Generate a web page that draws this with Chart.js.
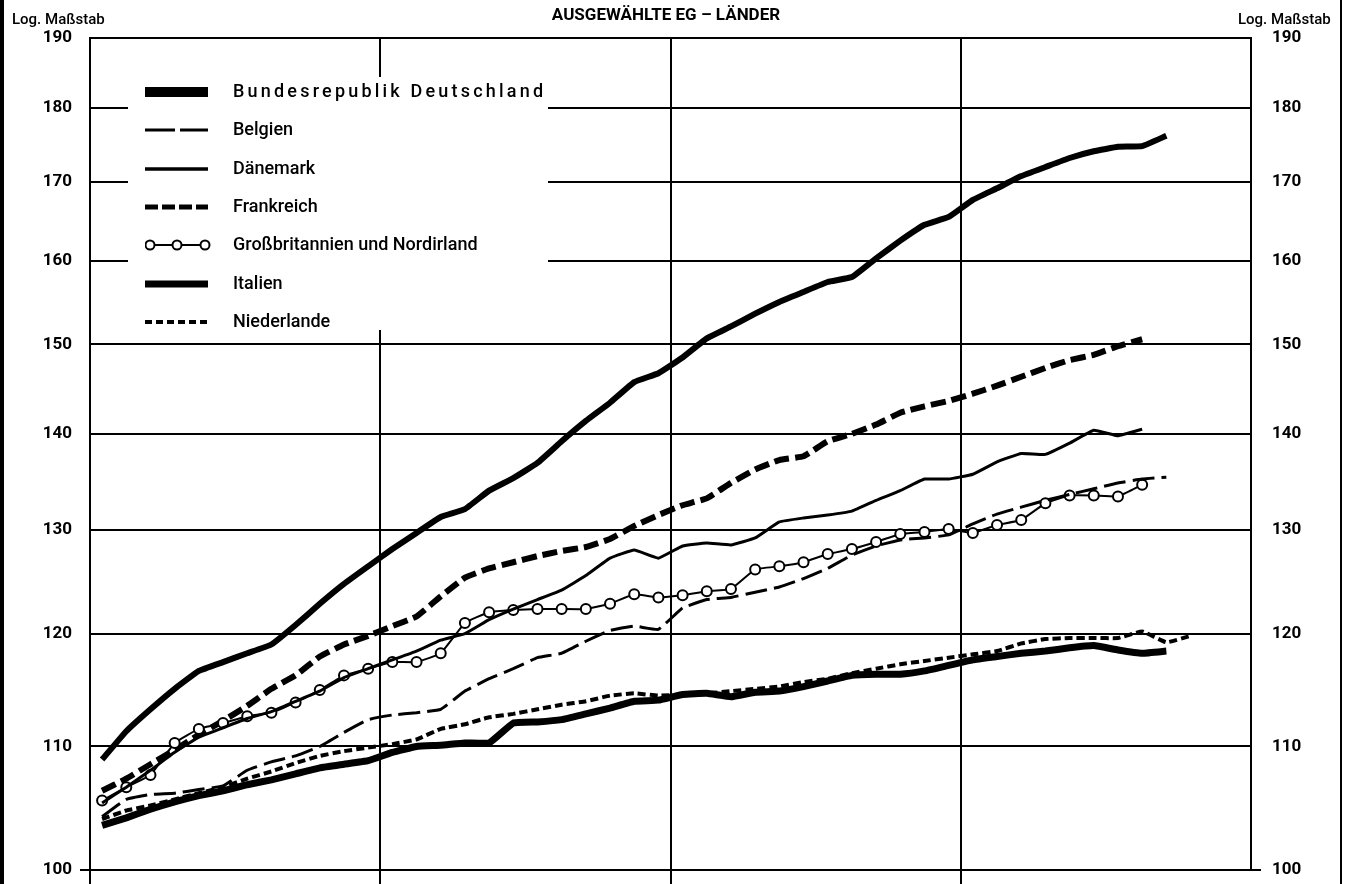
<!DOCTYPE html>
<html lang="de">
<head>
<meta charset="utf-8">
<title>Ausgewählte EG-Länder</title>
<script src="https://cdn.jsdelivr.net/npm/chart.js@4/dist/chart.umd.min.js"></script>
<style>
  html, body { margin: 0; padding: 0; background: #fff; }
  #wrap { position: relative; width: 1348px; height: 884px; overflow: hidden; background: #fff; font-family: Roboto, "Liberation Sans", sans-serif; color: #000; }
  #cv { position: absolute; left: 0; top: 0; }
  .edge { position: absolute; top: 0; height: 884px; background: #000; }
  .title { position: absolute; left: -8px; width: 1348px; top: 4px; text-align: center; font-weight: bold; font-size: 17px; }
  .logm { position: absolute; top: 10px; font-size: 15px; font-weight: 500; }
  #legend { position: absolute; left: 128px; top: 77px; width: 420px; height: 253px; }
  .lrow { position: absolute; left: 0; height: 20px; width: 420px; }
  .lrow svg { position: absolute; left: 17px; top: 0; }
  .lrow span { position: absolute; left: 105px; top: -2px; font-size: 18px; font-weight: 500; white-space: nowrap; }
</style>
</head>
<body>
<div id="wrap">
  <canvas id="cv" width="1348" height="884"></canvas>
  <div class="edge" style="left:0;width:4px;"></div>
  <div class="edge" style="left:1340px;width:2px;"></div>
  <div class="title">AUSGEWÄHLTE EG – LÄNDER</div>
  <div class="logm" style="left:12px;">Log. Maßstab</div>
  <div class="logm" style="left:1238px;">Log. Maßstab</div>
  <div id="legend"></div>
</div>
<script>
// ---- categories (monthly, four years) ----
const years = ['1. Jahr', '2. Jahr', '3. Jahr', '4. Jahr'];
const monthNames = ['Jan', 'Feb', 'Mär', 'Apr', 'Mai', 'Jun', 'Jul', 'Aug', 'Sep', 'Okt', 'Nov', 'Dez'];
const yTicks = [100, 110, 120, 130, 140, 150, 160, 170, 180, 190];

// ---- series values (index, log scale) ----
const deutschland = [103.5,104.1,104.8,105.4,105.9,106.3,106.8,107.2,107.7,108.2,108.5,108.8,109.5,110.0,110.1,110.3,110.3,112.0,112.1,112.3,112.8,113.3,113.9,114.0,114.5,114.6,114.3,114.7,114.8,115.2,115.7,116.2,116.3,116.3,116.6,117.1,117.6,117.9,118.2,118.4,118.7,118.9,118.5,118.2,118.4];
const belgien = [104.2,105.6,106.0,106.1,106.4,106.7,108.0,108.7,109.2,110.0,111.2,112.3,112.7,112.9,113.2,114.8,115.9,116.8,117.8,118.2,119.3,120.3,120.7,120.4,122.4,123.2,123.4,123.9,124.4,125.2,126.2,127.5,128.4,129.0,129.2,129.5,130.6,131.6,132.3,133.0,133.6,134.2,134.8,135.2,135.4];
const daenemark = [105.3,106.6,108.0,109.5,110.8,111.6,112.4,113.0,113.9,114.8,116.0,116.8,117.6,118.4,119.4,120.0,121.3,122.3,123.2,124.1,125.5,127.2,128.0,127.2,128.4,128.7,128.5,129.2,130.8,131.2,131.5,131.9,133.0,134.0,135.2,135.2,135.7,137.0,137.9,137.8,139.0,140.4,139.8,140.5];
const frankreich = [106.3,107.3,108.5,109.7,111.0,112.2,113.5,115.0,116.2,117.9,119.0,119.8,120.7,121.6,123.5,125.3,126.2,126.8,127.4,127.9,128.3,129.1,130.4,131.5,132.5,133.2,134.8,136.2,137.2,137.6,139.2,140.0,141.0,142.3,143.0,143.6,144.4,145.3,146.3,147.3,148.2,148.8,149.8,150.6];
const grossbritannien = [105.5,106.6,107.6,110.3,111.5,112.0,112.6,112.9,113.8,114.9,116.2,116.8,117.4,117.4,118.2,121.0,122.0,122.2,122.3,122.3,122.3,122.8,123.7,123.4,123.6,124.0,124.2,126.1,126.4,126.8,127.6,128.1,128.8,129.6,129.8,130.1,129.7,130.5,131.0,132.7,133.5,133.5,133.4,134.6];
const italien = [108.9,111.3,113.2,115.0,116.6,117.4,118.2,119.0,120.8,122.8,124.7,126.4,128.1,129.7,131.3,132.1,134.0,135.3,136.9,139.2,141.4,143.4,145.7,146.7,148.5,150.7,152.1,153.6,155.0,156.2,157.4,158.0,160.3,162.5,164.5,165.5,167.7,169.2,170.8,172.0,173.2,174.1,174.7,174.8,176.2];
const niederlande = [104.0,104.7,105.1,105.6,106.1,106.6,107.3,107.9,108.6,109.2,109.6,109.9,110.2,110.6,111.5,111.9,112.5,112.8,113.2,113.6,113.9,114.4,114.6,114.4,114.5,114.6,114.8,115.0,115.2,115.6,115.9,116.4,116.8,117.2,117.5,117.8,118.1,118.4,119.1,119.5,119.6,119.6,119.6,120.2,119.2,119.8];

const categories = [];
years.forEach(y => monthNames.forEach(m => categories.push(m + ' ' + y)));

// ---- legend entries (style descriptions for the HTML legend) ----
const legendItems = [
  { label: 'Bundesrepublik Deutschland', svg: '<line x1="0" y1="10" x2="63" y2="10" stroke="#000" stroke-width="10"/>', spacing: '3.2px' },
  { label: 'Belgien', svg: '<line x1="0" y1="10" x2="63" y2="10" stroke="#000" stroke-width="3" stroke-dasharray="30 5"/>' },
  { label: 'Dänemark', svg: '<line x1="0" y1="10" x2="63" y2="10" stroke="#000" stroke-width="3.5"/>' },
  { label: 'Frankreich', svg: '<line x1="0" y1="10" x2="63" y2="10" stroke="#000" stroke-width="5" stroke-dasharray="13 4"/>' },
  { label: 'Großbritannien und Nordirland', svg: '<line x1="3" y1="10" x2="60" y2="10" stroke="#000" stroke-width="2"/><circle cx="5" cy="10" r="4.5" fill="#fff" stroke="#000" stroke-width="2"/><circle cx="32" cy="10" r="4.5" fill="#fff" stroke="#000" stroke-width="2"/><circle cx="60" cy="10" r="4.5" fill="#fff" stroke="#000" stroke-width="2"/>' },
  { label: 'Italien', svg: '<line x1="0" y1="10" x2="63" y2="10" stroke="#000" stroke-width="7"/>' },
  { label: 'Niederlande', svg: '<line x1="0" y1="10" x2="63" y2="10" stroke="#000" stroke-width="4" stroke-dasharray="7 4"/>' }
];
const legendEl = document.getElementById('legend');
legendItems.forEach((it, i) => {
  const row = document.createElement('div');
  row.className = 'lrow';
  row.style.top = (5 + i * 38.3) + 'px';
  row.innerHTML = '<svg width="66" height="20" viewBox="0 0 66 20">' + it.svg + '</svg><span' +
    (it.spacing ? ' style="letter-spacing:' + it.spacing + '"' : '') + '>' + it.label + '</span>';
  legendEl.appendChild(row);
});

// white area behind the legend (interrupts the grid there)
const legendMask = {
  id: 'legendMask',
  beforeDatasetsDraw(chart) {
    const a = chart.chartArea, c = chart.ctx;
    c.save();
    c.fillStyle = '#fff';
    c.fillRect(a.left + 38, a.top + 39, 420, 253);
    c.restore();
  }
};

const base = { borderColor: '#000', backgroundColor: '#000', pointRadius: 0, fill: false, tension: 0.1, borderCapStyle: 'butt', borderJoinStyle: 'round' };

function fitY(width) {
  return s => { s.width = width; s.paddingTop = 0; s.paddingBottom = 0; };
}

new Chart(document.getElementById('cv'), {
  type: 'line',
  data: {
    labels: categories,
    datasets: [
      Object.assign({}, base, { label: 'Bundesrepublik Deutschland', data: deutschland, borderWidth: 7 }),
      Object.assign({}, base, { label: 'Niederlande', data: niederlande, borderWidth: 4, borderDash: [8, 4] }),
      Object.assign({}, base, { label: 'Belgien', data: belgien, borderWidth: 3, borderDash: [22, 7] }),
      Object.assign({}, base, { label: 'Dänemark', data: daenemark, borderWidth: 3 }),
      Object.assign({}, base, { label: 'Großbritannien und Nordirland', data: grossbritannien, borderWidth: 2,
        pointRadius: 5, pointBackgroundColor: '#fff', pointBorderColor: '#000', pointBorderWidth: 2 }),
      Object.assign({}, base, { label: 'Frankreich', data: frankreich, borderWidth: 6, borderDash: [15, 6] }),
      Object.assign({}, base, { label: 'Italien', data: italien, borderWidth: 6 })
    ]
  },
  options: {
    responsive: false,
    animation: false,
    layout: { padding: { top: 38, left: 0, right: 0, bottom: 0 } },
    plugins: { legend: { display: false }, tooltip: { enabled: false }, title: { display: false } },
    elements: { line: { borderColor: '#000' } },
    scales: {
      x: {
        type: 'category',
        offset: true,
        ticks: { display: false, autoSkip: false },
        grid: {
          offset: true,
          lineWidth: 2,
          color: ctx => (ctx.index % 12 === 0 ? '#000' : 'rgba(0,0,0,0)'),
          drawTicks: true,
          tickLength: 14,
          tickWidth: 2
        },
        border: { display: false },
        afterFit: s => { s.height = 14; }
      },
      y: {
        type: 'logarithmic',
        position: 'left',
        min: 100, max: 190,
        afterBuildTicks: s => { s.ticks = yTicks.map(v => ({ value: v })); },
        ticks: { padding: 8, color: '#000', font: { family: 'Roboto', size: 17, weight: 'bold' }, callback: v => String(v) },
        grid: { color: '#000', lineWidth: 2, drawTicks: true, tickLength: 10,
          tickColor: ctx => (ctx.tick && ctx.tick.value === 100 ? '#000' : 'rgba(0,0,0,0)') },
        border: { display: true, color: '#000', width: 2 },
        afterFit: fitY(90)
      },
      y2: {
        type: 'logarithmic',
        position: 'right',
        min: 100, max: 190,
        afterBuildTicks: s => { s.ticks = yTicks.map(v => ({ value: v })); },
        ticks: { padding: 11, color: '#000', font: { family: 'Roboto', size: 17, weight: 'bold' }, callback: v => String(v) },
        grid: { drawOnChartArea: false, color: '#000', lineWidth: 2, drawTicks: true, tickLength: 10,
          tickColor: ctx => (ctx.tick && ctx.tick.value === 100 ? '#000' : 'rgba(0,0,0,0)') },
        border: { display: true, color: '#000', width: 2 },
        afterFit: fitY(97)
      }
    }
  },
  plugins: [legendMask]
});
</script>
</body>
</html>
